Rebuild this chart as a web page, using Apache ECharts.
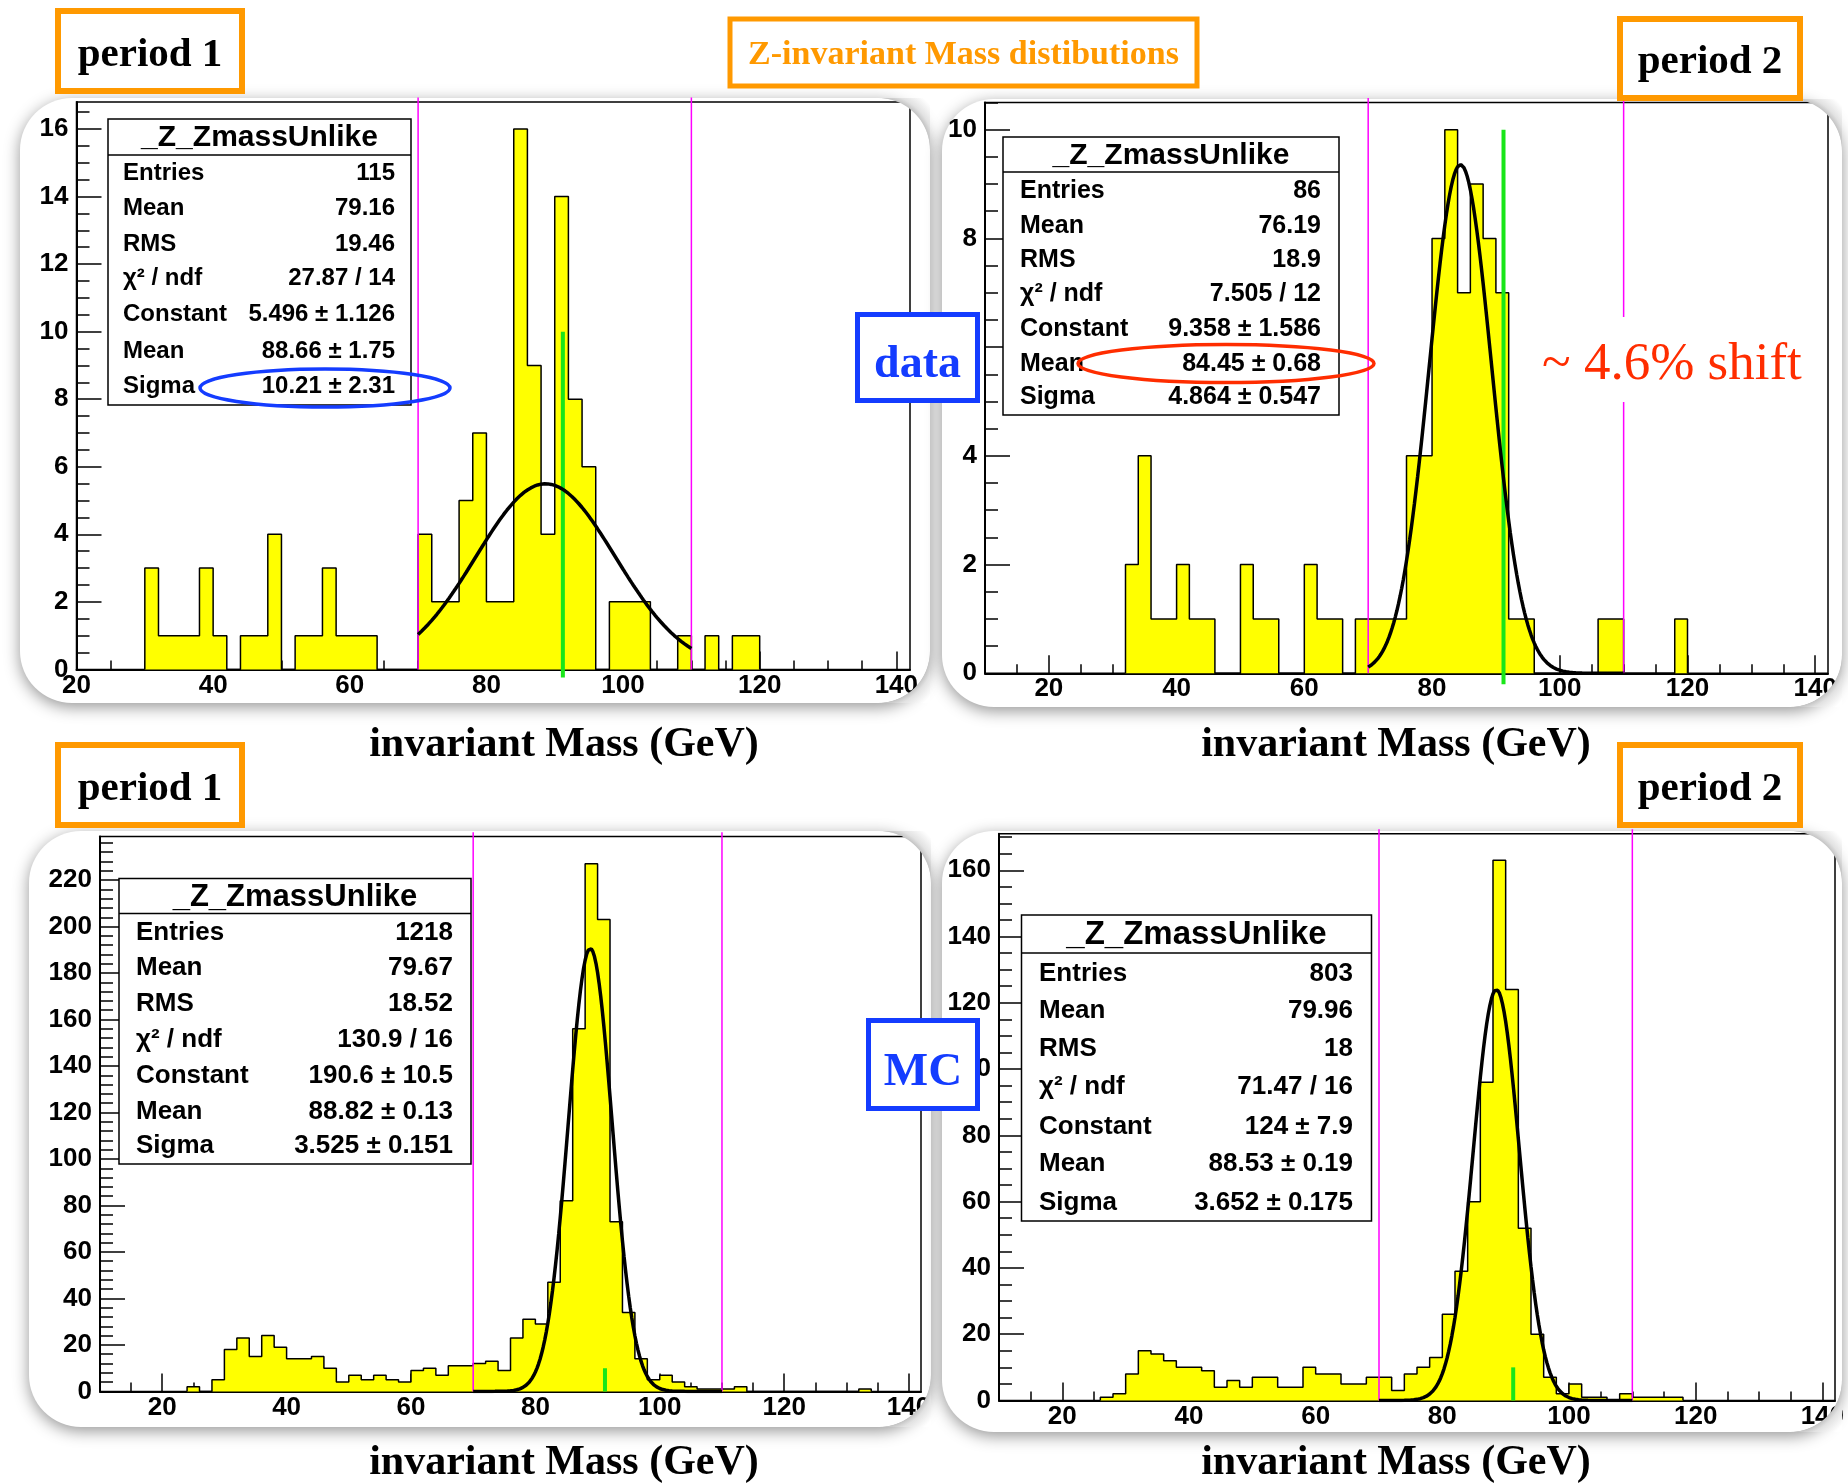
<!DOCTYPE html>
<html>
<head>
<meta charset="utf-8">
<title>Z-invariant Mass distibutions</title>
<script src="https://cdn.jsdelivr.net/npm/echarts@6/dist/echarts.min.js"></script>
<style>
  html, body { margin: 0; padding: 0; background: #fff; }
  #main { width: 1848px; height: 1484px; }
</style>
</head>
<body>
<div id="main"></div>
<script>
// ---------------- data ----------------
const BIN_WIDTH = 2; // GeV per bin

// data, period 1 (first bin starts at 30 GeV)
const data1Start = 30;
const data1Counts = [3, 1, 1, 1, 3, 1, 0, 1, 1, 4, 0, 1, 1, 3, 1, 1, 1, 0, 0, 0,
  4, 2, 2, 5, 7, 2, 2, 16, 9, 4, 14, 8, 6, 0, 2, 2, 2, 0, 0, 1, 0, 1, 0, 1, 1];

// data, period 2 (first bin starts at 32 GeV)
const data2Start = 32;
const data2Counts = [2, 4, 1, 1, 2, 1, 1, 0, 0, 2, 1, 1, 0, 0, 2, 1, 1, 0, 1, 1,
  1, 1, 4, 4, 8, 10, 7, 9, 8, 7, 1, 1, 0, 0, 0, 0, 0, 1, 1, 0, 0, 0, 0, 1];

// MC, period 1 (first bin starts at 24 GeV)
const mc1Start = 24;
const mc1Counts = [2, 0, 5, 18, 23, 15, 24, 19, 14, 14, 15, 10, 4, 7, 5, 7, 5, 4, 9, 10,
  7, 11, 11, 12, 13, 9, 23, 31, 29, 47, 82, 156, 227, 203, 73, 34, 14, 5, 7, 4,
  2, 1, 1, 1, 2, 0, 0, 0, 0, 0, 0, 0, 0, 0, 1];

// MC, period 2 (first bin starts at 26 GeV)
const mc2Start = 26;
const mc2Counts = [1, 2, 8, 15, 14, 12, 10, 10, 9, 4, 6, 4, 7, 7, 4, 4, 10, 8, 8, 5,
  5, 7, 7, 3, 8, 10, 13, 26, 39, 60, 96, 163, 124, 52, 20, 7, 2, 5, 1, 1,
  0, 2, 1, 1, 1, 1];

// Gaussian fit results (Constant, Mean, Sigma) and fit window
const fitConstant = [5.496, 9.358, 190.6, 124];
const fitMean = [88.66, 84.45, 88.82, 88.53];
const fitSigma = [10.21, 4.864, 3.525, 3.652];
const fitRange = [70, 110];

// reference lines
const windowLines = [70, 110];   // mass window
const zMass = 91.19;              // nominal Z mass
const zMarkerTop = 10;

// tick labels
const xMajorTicks = [20, 40, 60, 80, 100, 120, 140];
const yTicksData1 = [0, 2, 4, 6, 8, 10, 12, 14, 16];
const yTicksData2 = [0, 2, 4, 6, 8, 10];
const yTicksMc1 = [0, 20, 40, 60, 80, 100, 120, 140, 160, 180, 200, 220];
const yTicksMc2 = [0, 20, 40, 60, 80, 100, 120, 140, 160];

// statistics boxes
const statLabels = ['Entries', 'Mean', 'RMS', 'χ² / ndf', 'Constant', 'Mean', 'Sigma'];
const statsData1 = ['115', '79.16', '19.46', '27.87 / 14', '5.496 ± 1.126', '88.66 ± 1.75', '10.21 ± 2.31'];
const statsData2 = ['86', '76.19', '18.9', '7.505 / 12', '9.358 ± 1.586', '84.45 ± 0.68', '4.864 ± 0.547'];
const statsMc1 = ['1218', '79.67', '18.52', '130.9 / 16', '190.6 ± 10.5', '88.82 ± 0.13', '3.525 ± 0.151'];
const statsMc2 = ['803', '79.96', '18', '71.47 / 16', '124 ± 7.9', '88.53 ± 0.19', '3.652 ± 0.175'];
const statTitle = '_Z_ZmassUnlike';

// ---------------- layout ----------------
const SANS = '"Liberation Sans", Arial, Helvetica, sans-serif';
const SERIF = '"Liberation Serif", "Times New Roman", serif';
const ORANGE = '#ff9900';
const BLUE = '#143cff';
const RED = '#ff2d00';

const panels = [
  { start: data1Start, counts: data1Counts, yTicks: yTicksData1, stats: statsData1,
    grid: { left: 76.5, top: 102, width: 833.5, height: 567.4 },
    xMin: 20, xMax: 142, yMax: 16.8, yMinorStep: 0.5, xMinorFrom: 20, greenLow: -0.24,
    box: { x: 108, y: 119, w: 303, h: 286, head: 36, title: 30, fs: 24, lx: 123, vx: 395,
           rows: [173, 208.7, 244, 278.5, 314.7, 351, 386.7] } },
  { start: data2Start, counts: data2Counts, yTicks: yTicksData2, stats: statsData2,
    grid: { left: 985, top: 102.5, width: 843, height: 570.8 },
    xMin: 10, xMax: 142, yMax: 10.5, yMinorStep: 0.5, xMinorFrom: 15, greenLow: -0.2,
    box: { x: 1003, y: 137, w: 336, h: 278, head: 35, title: 30, fs: 25, lx: 1020, vx: 1321,
           rows: [191, 225.7, 260, 294, 329, 364, 397] } },
  { start: mc1Start, counts: mc1Counts, yTicks: yTicksMc1, stats: statsMc1,
    grid: { left: 100, top: 836.6, width: 821, height: 554.8 },
    xMin: 10, xMax: 142, yMax: 238.7, yMinorStep: 4, xMinorFrom: 15, greenLow: 0,
    box: { x: 119, y: 878.5, w: 352, h: 285.5, head: 35, title: 31, fs: 26, lx: 136, vx: 453,
           rows: [932.7, 968.3, 1003.9, 1039.5, 1076, 1111.8, 1146.2] } },
  { start: mc2Start, counts: mc2Counts, yTicks: yTicksMc2, stats: statsMc2,
    grid: { left: 999, top: 833.8, width: 836, height: 566.7 },
    xMin: 10, xMax: 142, yMax: 171, yMinorStep: 5, xMinorFrom: 15, greenLow: 0,
    box: { x: 1021.5, y: 915, w: 350, h: 306, head: 38, title: 33, fs: 26, lx: 1039, vx: 1353,
           rows: [973.4, 1011, 1049.3, 1086.9, 1126.4, 1164, 1202.8] } }
];

// rounded cards [x, y, w, h]
const CARD_R = 52;
const cards = [[20, 98, 910, 605], [942, 99, 900, 608], [29, 831, 902, 596], [942, 831, 900, 601]];

// ---------------- helpers ----------------
function stepSeriesData(start, counts) {
  const pts = [[start, 0]];
  counts.forEach(function (c, i) { pts.push([start + i * BIN_WIDTH, c]); });
  const end = start + counts.length * BIN_WIDTH;
  pts.push([end, counts[counts.length - 1]]);
  pts.push([end, 0]);
  return pts;
}

function gaussCurve(c, m, s) {
  const pts = [];
  for (let x = fitRange[0]; x <= fitRange[1] + 1e-9; x += 0.25) {
    pts.push([x, c * Math.exp(-0.5 * Math.pow((x - m) / s, 2))]);
  }
  return pts;
}

function steps(from, to, step) {
  const out = [];
  for (let v = from; v <= to + 1e-9; v += step) out.push(Math.round(v * 1000) / 1000);
  return out;
}

const tickLabelStyle = { color: '#000', fontSize: 26, fontWeight: 'bold', fontFamily: SANS };

const grids = [], xAxes = [], yAxes = [], series = [];

panels.forEach(function (p, i) {
  grids.push({
    left: p.grid.left, top: p.grid.top, width: p.grid.width, height: p.grid.height,
    containLabel: false, outerBoundsMode: 'none',
    show: true, backgroundColor: '#fff', borderColor: '#000', borderWidth: 1.5
  });

  // main x axis: long ticks + labels
  xAxes.push({
    type: 'value', gridIndex: i, min: p.xMin, max: p.xMax, position: 'bottom',
    axisLine: { show: true, onZero: false, lineStyle: { color: '#000', width: 2 } },
    axisTick: { show: true, inside: true, length: 18, customValues: xMajorTicks,
                lineStyle: { color: '#000', width: 1.5 } },
    axisLabel: Object.assign({ show: true, margin: 3, customValues: xMajorTicks }, tickLabelStyle),
    splitLine: { show: false }, minorTick: { show: false }
  });
  // secondary x axis: short ticks every 5 GeV
  xAxes.push({
    type: 'value', gridIndex: i, min: p.xMin, max: p.xMax, position: 'bottom',
    axisLine: { show: false, onZero: false },
    axisTick: { show: true, inside: true, length: 9, customValues: steps(p.xMinorFrom, 140, 5),
                lineStyle: { color: '#000', width: 1.5 } },
    axisLabel: { show: false }, splitLine: { show: false }
  });

  yAxes.push({
    type: 'value', gridIndex: i, min: 0, max: p.yMax, position: 'left',
    axisLine: { show: true, onZero: false, lineStyle: { color: '#000', width: 2 } },
    axisTick: { show: true, inside: true, length: 25, customValues: p.yTicks,
                lineStyle: { color: '#000', width: 1.5 } },
    axisLabel: Object.assign({ show: true, margin: 8, customValues: p.yTicks }, tickLabelStyle),
    splitLine: { show: false }, minorTick: { show: false }
  });
  yAxes.push({
    type: 'value', gridIndex: i, min: 0, max: p.yMax, position: 'left',
    axisLine: { show: false, onZero: false },
    axisTick: { show: true, inside: true, length: 13, customValues: steps(0, p.yMax, p.yMinorStep),
                lineStyle: { color: '#000', width: 1.5 } },
    axisLabel: { show: false }, splitLine: { show: false }
  });

  const ax = { xAxisIndex: 2 * i, yAxisIndex: 2 * i };
  const common = { type: 'line', symbol: 'none', showSymbol: false, silent: true,
                   animation: false, emphasis: { disabled: true } };

  series.push(Object.assign({}, common, ax, {
    name: 'hist' + i, step: 'end', z: 2,
    data: stepSeriesData(p.start, p.counts),
    lineStyle: { color: '#000', width: 1.5 },
    areaStyle: { color: '#ffff00', opacity: 1 }
  }));

  windowLines.forEach(function (x, k) {
    series.push(Object.assign({}, common, ax, {
      name: 'window' + i + '_' + k, z: 3, clip: false,
      data: [[x, 0], [x, p.yMax * 1.008]],
      lineStyle: { color: '#ff00ff', width: 1.5 }
    }));
  });

  series.push(Object.assign({}, common, ax, {
    name: 'zmass' + i, z: 4, clip: false,
    data: [[zMass, p.greenLow], [zMass, zMarkerTop]],
    lineStyle: { color: '#19e619', width: 4 }
  }));

  series.push(Object.assign({}, common, ax, {
    name: 'fit' + i, z: 5,
    data: gaussCurve(fitConstant[i], fitMean[i], fitSigma[i]),
    lineStyle: { color: '#000', width: 3.5 }
  }));
});

// ---------------- decorations ----------------
const graphics = [];

// rounded cards behind each pad
cards.forEach(function (c) {
  graphics.push({
    type: 'rect', z: -5, silent: true,
    shape: { x: c[0], y: c[1], width: c[2], height: c[3], r: CARD_R },
    style: { fill: '#fff', shadowBlur: 16, shadowColor: 'rgba(0,0,0,0.42)',
             shadowOffsetX: 0, shadowOffsetY: 4 }
  });
});

// right-hand corners of each card trim whatever reaches past the rounded edge
function cornerTrim(cx, cy, a0, a1, sx, sy) {
  const pts = [];
  for (let k = 0; k <= 24; k++) {
    const a = a0 + (a1 - a0) * k / 24;
    pts.push([cx + CARD_R * Math.cos(a), cy + CARD_R * Math.sin(a)]);
  }
  pts.push([sx, sy]);
  const R = CARD_R + 17;
  graphics.push({
    type: 'polygon', z: 15, silent: true,
    shape: { points: pts },
    style: {
      fill: new echarts.graphic.RadialGradient(cx, cy, R, [
        { offset: CARD_R / R, color: '#c4c4c4' },
        { offset: (CARD_R + 5) / R, color: '#e2e2e2' },
        { offset: 1, color: '#ffffff' }
      ], true)
    }
  });
}
cards.forEach(function (c) {
  const right = c[0] + c[2], top = c[1], bottom = c[1] + c[3];
  cornerTrim(right - CARD_R, top + CARD_R, -Math.PI / 2, 0, right, top);
  cornerTrim(right - CARD_R, bottom - CARD_R, 0, Math.PI / 2, right, bottom);
});

// statistics boxes
panels.forEach(function (p) {
  const b = p.box;
  graphics.push({
    type: 'rect', z: 10, silent: true,
    shape: { x: b.x, y: b.y, width: b.w, height: b.h },
    style: { fill: '#fff', stroke: '#000', lineWidth: 1.5 }
  });
  graphics.push({
    type: 'line', z: 11, silent: true,
    shape: { x1: b.x, y1: b.y + b.head, x2: b.x + b.w, y2: b.y + b.head },
    style: { stroke: '#000', lineWidth: 1.5 }
  });
  graphics.push({
    type: 'text', z: 11, silent: true,
    style: { text: statTitle, x: b.x + b.w / 2, y: b.y + b.head / 2 + 1,
             align: 'center', verticalAlign: 'middle', fill: '#000',
             font: 'bold ' + b.title + 'px ' + SANS }
  });
  statLabels.forEach(function (lab, r) {
    graphics.push({
      type: 'text', z: 11, silent: true,
      style: { text: lab, x: b.lx, y: b.rows[r], align: 'left', verticalAlign: 'middle',
               fill: '#000', font: 'bold ' + b.fs + 'px ' + SANS }
    });
    graphics.push({
      type: 'text', z: 11, silent: true,
      style: { text: p.stats[r], x: b.vx, y: b.rows[r], align: 'right', verticalAlign: 'middle',
               fill: '#000', font: 'bold ' + b.fs + 'px ' + SANS }
    });
  });
});

// highlighted fit widths / means
graphics.push({
  type: 'ellipse', z: 20, silent: true,
  shape: { cx: 325, cy: 388, rx: 125, ry: 19 },
  style: { fill: 'none', stroke: BLUE, lineWidth: 3.5 }
});
graphics.push({
  type: 'ellipse', z: 20, silent: true,
  shape: { cx: 1226, cy: 363.5, rx: 148, ry: 19 },
  style: { fill: 'none', stroke: RED, lineWidth: 3.5 }
});

// shift annotation with its white backing
graphics.push({
  type: 'rect', z: 19, silent: true,
  shape: { x: 1528, y: 317, width: 288, height: 85 },
  style: { fill: '#fff' }
});
graphics.push({
  type: 'text', z: 20, silent: true,
  style: { text: '~ 4.6% shift', x: 1542, y: 365, align: 'left', verticalAlign: 'middle',
           fill: RED, font: '53px ' + SERIF }
});

// framed labels
function framedLabel(x, y, w, h, color, lw, text, font, textColor, dy) {
  graphics.push({
    type: 'rect', z: 20, silent: true,
    shape: { x: x, y: y, width: w, height: h },
    style: { fill: '#fff', stroke: color, lineWidth: lw }
  });
  graphics.push({
    type: 'text', z: 21, silent: true,
    style: { text: text, x: x + w / 2, y: y + h / 2 + dy, align: 'center', verticalAlign: 'middle',
             fill: textColor, font: font }
  });
}
const periodFont = 'bold 41px ' + SERIF;
framedLabel(58, 11, 184, 80, ORANGE, 6, 'period 1', periodFont, '#000', 4);
framedLabel(1620, 19, 180, 79, ORANGE, 6, 'period 2', periodFont, '#000', 4);
framedLabel(58, 745, 184, 80, ORANGE, 6, 'period 1', periodFont, '#000', 4);
framedLabel(1620, 745, 180, 80, ORANGE, 6, 'period 2', periodFont, '#000', 4);
framedLabel(730, 19, 467, 67, ORANGE, 5, 'Z-invariant Mass distibutions', 'bold 34px ' + SERIF, ORANGE, 3);
framedLabel(857.5, 314.5, 120, 86, BLUE, 5, 'data', 'bold 46px ' + SERIF, BLUE, 8);
framedLabel(868.5, 1020.5, 109, 88, BLUE, 5, 'MC', 'bold 47px ' + SERIF, BLUE, 8);

// axis titles
[[564, 745], [1396, 745], [564, 1463], [1396, 1463]].forEach(function (pos) {
  graphics.push({
    type: 'text', z: 20, silent: true,
    style: { text: 'invariant Mass (GeV)', x: pos[0], y: pos[1], align: 'center',
             verticalAlign: 'middle', fill: '#000', font: 'bold 42px ' + SERIF }
  });
});

const chart = echarts.init(document.getElementById('main'), null, { renderer: 'canvas' });
chart.setOption({
  backgroundColor: '#fff',
  animation: false,
  grid: grids,
  xAxis: xAxes,
  yAxis: yAxes,
  series: series,
  graphic: { elements: graphics }
});
</script>
</body>
</html>
